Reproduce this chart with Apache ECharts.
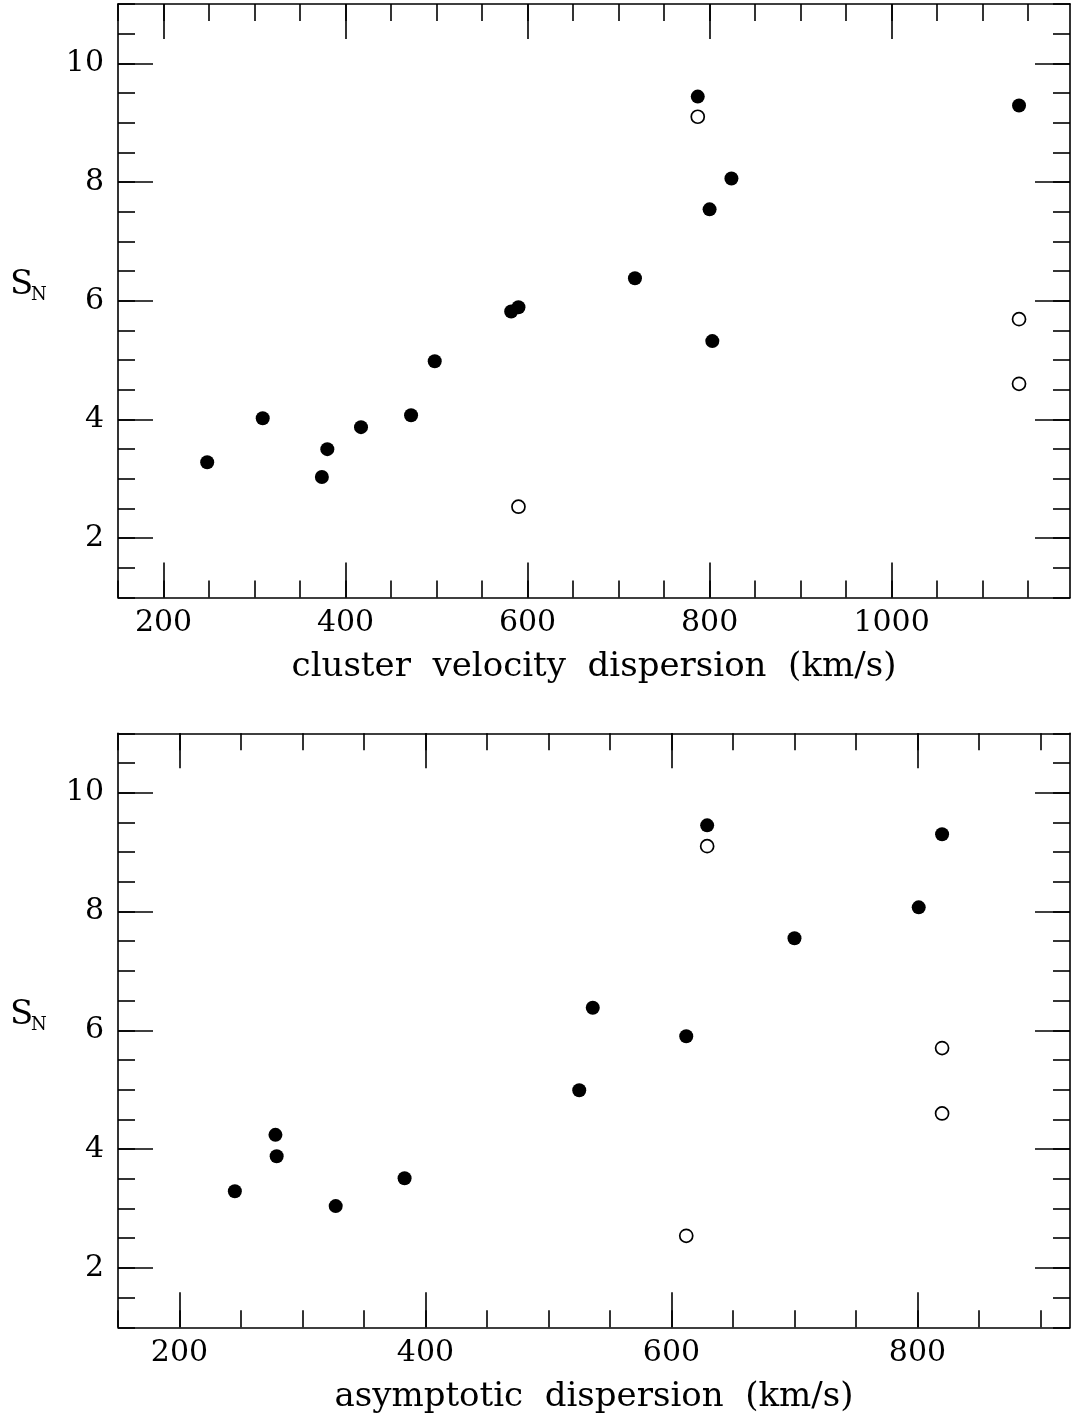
<!DOCTYPE html>
<html>
<head>
<meta charset="utf-8">
<script src="https://cdn.jsdelivr.net/npm/echarts@6/dist/echarts.min.js"></script>
<style>
  html, body { margin: 0; padding: 0; background: #fff; }
  #chart { width: 1071px; height: 1416px; }
</style>
</head>
<body>
<div id="chart"></div>
<script>
// Specific frequency S_N against cluster velocity dispersion (top)
// and against asymptotic dispersion (bottom).

// Top panel: cluster velocity dispersion (km/s)
const topFilledX = [248, 309, 374, 380, 417, 472, 498, 582, 590, 718, 787, 800, 803, 824, 1140];
const topFilledY = [3.28, 4.02, 3.03, 3.50, 3.87, 4.07, 4.98, 5.82, 5.89, 6.38, 9.44, 7.54, 5.32, 8.06, 9.29];
const topOpenX = [787, 590, 1140, 1140];
const topOpenY = [9.10, 2.53, 5.69, 4.60];

// Bottom panel: asymptotic dispersion (km/s)
const botFilledX = [245, 278, 279, 327, 383, 525, 536, 612, 629, 700, 801, 820];
const botFilledY = [3.29, 4.24, 3.88, 3.04, 3.51, 4.99, 6.38, 5.90, 9.45, 7.55, 8.07, 9.30];
const botOpenX = [629, 612, 820, 820];
const botOpenY = [9.10, 2.54, 5.70, 4.60];

// Axis ranges and tick positions
const topXRange = [150, 1196];
const botXRange = [150, 924];
const yRange = [1, 11];
const topXMajor = [200, 400, 600, 800, 1000];
const botXMajor = [200, 400, 600, 800];
const yMajor = [2, 4, 6, 8, 10];

function steps(lo, hi, step) {
  const out = [];
  for (let v = lo; v <= hi + 1e-9; v += step) out.push(+v.toFixed(3));
  return out;
}
const topXMinor = steps(150, 1196, 50);
const botXMinor = steps(150, 924, 50);
const yMinor = steps(1, 11, 0.5);

const FONT = 'DejaVu Serif';
const INK = '#000';
const plain = v => String(v);

function xAxes(grid, range, major, minor, title) {
  const base = {
    type: 'value', gridIndex: grid, min: range[0], max: range[1],
    splitLine: { show: false }
  };
  return [
    Object.assign({}, base, {
      position: 'bottom',
      axisLine: { show: true, onZero: false, lineStyle: { color: INK, width: 1.6 } },
      axisTick: { show: true, inside: true, length: 35, customValues: major, lineStyle: { color: INK, width: 1.6 } },
      axisLabel: { show: true, customValues: major, formatter: plain, margin: 11, color: INK, fontFamily: FONT, fontSize: 30 },
      name: title, nameLocation: 'middle', nameGap: 53,
      nameTextStyle: { color: INK, fontFamily: FONT, fontSize: 34 }
    }),
    Object.assign({}, base, {
      position: 'bottom',
      axisLine: { show: false, onZero: false },
      axisTick: { show: true, inside: true, length: 17, customValues: minor, lineStyle: { color: INK, width: 1.6 } },
      axisLabel: { show: false }
    }),
    Object.assign({}, base, {
      position: 'top',
      axisLine: { show: true, onZero: false, lineStyle: { color: INK, width: 1.6 } },
      axisTick: { show: true, inside: true, length: 35, customValues: major, lineStyle: { color: INK, width: 1.6 } },
      axisLabel: { show: false }
    }),
    Object.assign({}, base, {
      position: 'top',
      axisLine: { show: false, onZero: false },
      axisTick: { show: true, inside: true, length: 17, customValues: minor, lineStyle: { color: INK, width: 1.6 } },
      axisLabel: { show: false }
    })
  ];
}

function yAxes(grid) {
  const base = {
    type: 'value', gridIndex: grid, min: yRange[0], max: yRange[1],
    splitLine: { show: false }
  };
  return [
    Object.assign({}, base, {
      position: 'left',
      axisLine: { show: true, onZero: false, lineStyle: { color: INK, width: 1.6 } },
      axisTick: { show: true, inside: true, length: 35, customValues: yMajor, lineStyle: { color: INK, width: 1.6 } },
      axisLabel: { show: true, customValues: yMajor, formatter: plain, margin: 14, color: INK, fontFamily: FONT, fontSize: 30 }
    }),
    Object.assign({}, base, {
      position: 'left',
      axisLine: { show: false, onZero: false },
      axisTick: { show: true, inside: true, length: 17, customValues: yMinor, lineStyle: { color: INK, width: 1.6 } },
      axisLabel: { show: false }
    }),
    Object.assign({}, base, {
      position: 'right',
      axisLine: { show: true, onZero: false, lineStyle: { color: INK, width: 1.6 } },
      axisTick: { show: true, inside: true, length: 35, customValues: yMajor, lineStyle: { color: INK, width: 1.6 } },
      axisLabel: { show: false }
    }),
    Object.assign({}, base, {
      position: 'right',
      axisLine: { show: false, onZero: false },
      axisTick: { show: true, inside: true, length: 17, customValues: yMinor, lineStyle: { color: INK, width: 1.6 } },
      axisLabel: { show: false }
    })
  ];
}

function pairs(xs, ys) { return xs.map((x, i) => [x, ys[i]]); }

function filled(grid, xs, ys) {
  return {
    type: 'scatter', xAxisIndex: grid * 4, yAxisIndex: grid * 4,
    data: pairs(xs, ys), symbol: 'circle', symbolSize: 14,
    itemStyle: { color: INK, opacity: 1 }, silent: true, animation: false
  };
}
function open(grid, xs, ys) {
  return {
    type: 'scatter', xAxisIndex: grid * 4, yAxisIndex: grid * 4,
    data: pairs(xs, ys), symbol: 'circle', symbolSize: 13,
    itemStyle: { color: '#fff', borderColor: INK, borderWidth: 1.7, opacity: 1 },
    silent: true, animation: false
  };
}

function snLabel(top) {
  return [
    { type: 'text', left: 10, top: top, style: { text: 'S', font: '34px "DejaVu Serif"', fill: INK } },
    { type: 'text', left: 31, top: top + 18, style: { text: 'N', font: '18px "DejaVu Serif"', fill: INK } }
  ];
}

const chart = echarts.init(document.getElementById('chart'), null, { renderer: 'canvas' });
chart.setOption({
  backgroundColor: '#fff',
  animation: false,
  grid: [
    { left: 118, right: 1, top: 4, height: 593.5, outerBoundsMode: 'none', containLabel: false },
    { left: 118, right: 1, top: 733.3, height: 594, outerBoundsMode: 'none', containLabel: false }
  ],
  xAxis: [].concat(
    xAxes(0, topXRange, topXMajor, topXMinor, 'cluster  velocity  dispersion  (km/s)'),
    xAxes(1, botXRange, botXMajor, botXMinor, 'asymptotic  dispersion  (km/s)')
  ),
  yAxis: [].concat(yAxes(0), yAxes(1)),
  graphic: [].concat(snLabel(268), snLabel(998)),
  series: [
    filled(0, topFilledX, topFilledY),
    open(0, topOpenX, topOpenY),
    filled(1, botFilledX, botFilledY),
    open(1, botOpenX, botOpenY)
  ]
});
</script>
</body>
</html>
